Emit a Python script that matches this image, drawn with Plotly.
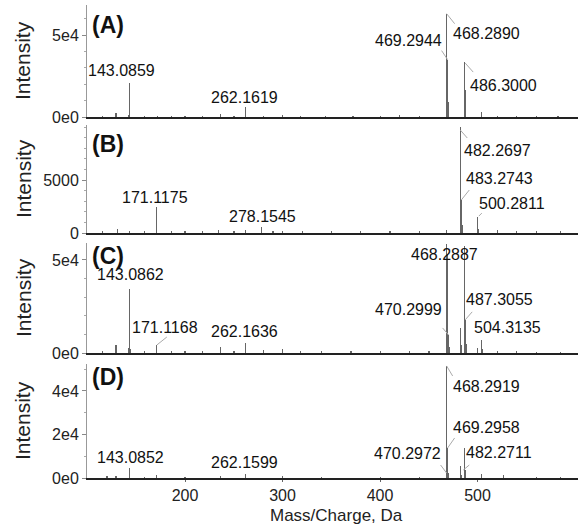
import plotly.graph_objects as go

# ---- data (m/z, intensity) ----
# labelled peaks
a_lab_mz = [143.0859, 262.1619, 468.2890, 469.2944, 486.3000]
a_lab_int = [20700, 6100, 63000, 35000, 33500]
b_lab_mz = [171.1175, 278.1545, 482.2697, 483.2743, 500.2811]
b_lab_int = [2450, 570, 10000, 3110, 1500]
c_lab_mz = [143.0862, 171.1168, 262.1636, 468.2887, 470.2999, 487.3055, 504.3135]
c_lab_int = [34400, 4300, 5400, 58500, 9700, 17800, 7000]
d_lab_mz = [143.0852, 262.1599, 468.2919, 469.2958, 470.2972, 482.2711]
d_lab_int = [4600, 1800, 51500, 13800, 2300, 5500]

# unlabelled peaks / baseline noise
a_mz = [115.1, 129.1, 142.1, 158.1, 172.1, 186.1, 200.1, 218.1, 236.2, 250.2, 280.2,
        300.2, 318.2, 344.2, 372.2, 400.2, 420.2, 440.3, 470.3, 487.3, 504.3, 520.3,
        540.3, 560.3, 582.4]
a_int = [900, 2400, 1500, 800, 700, 600, 700, 900, 1800, 700, 800,
         1300, 900, 600, 700, 600, 1200, 700, 9000, 16500, 2800, 900,
         600, 700, 600]
b_mz = [115.1, 131.1, 143.1, 158.1, 186.1, 200.1, 218.1, 234.2, 250.2, 262.2, 290.2,
        300.2, 320.2, 350.2, 380.2, 410.3, 440.3, 468.3, 484.3, 501.3, 520.3, 540.3,
        560.3, 585.4]
b_int = [150, 380, 200, 150, 180, 150, 200, 280, 170, 260, 200,
         180, 150, 170, 150, 160, 180, 300, 800, 400, 300, 180,
         160, 150]
c_mz = [115.1, 129.1, 142.1, 144.1, 158.1, 186.1, 200.1, 218.1, 236.2, 250.2, 280.2,
        300.2, 318.2, 340.2, 370.2, 400.3, 430.3, 450.3, 469.29, 471.3, 482.27, 483.27,
        486.30, 488.3, 500.3, 505.3, 520.3, 540.3, 560.3, 585.4]
c_int = [1100, 4300, 2500, 2000, 1200, 1000, 1100, 1200, 3200, 1300, 1500,
         2100, 1100, 1000, 1100, 1000, 1200, 1300, 53000, 3000, 13500, 4500,
         57500, 5000, 2700, 2000, 1100, 900, 800, 800]
d_mz = [120.1, 129.1, 158.1, 171.1, 200.1, 236.2, 300.2, 340.2, 400.3, 440.3, 483.3,
        486.30, 487.3, 504.3, 526.3, 560.3, 585.4]
d_int = [900, 900, 500, 1400, 600, 900, 700, 500, 500, 600, 1500,
         14000, 3500, 1800, 1400, 500, 500]

panel_names = ["(A)", "(B)", "(C)", "(D)"]
y_ranges = [68300, 10190, 59100, 52400]
y_tickvals = [[0, 50000], [0, 5000], [0, 50000], [0, 20000, 40000]]
y_ticktext = [["0e0", "5e4"], ["0", "5000"], ["0e0", "5e4"], ["0e0", "2e4", "4e4"]]
y_minor = [10000, 1000, 10000, 10000]
x_tickvals = [200, 300, 400, 500]

# layout helpers (pixel offsets of label centre from the peak top, and leader segments)
LABEL_POS = {
    "143.0859": (-8, -13, None), "262.1619": (-1, -10, None),
    "468.2890": (40, 20, (0, 0, 8, 10)), "469.2944": (-39, -19, (0, 0, -6, -9)),
    "486.3000": (39, 23, (1, 1, 9, 10)),
    "171.1175": (-2, -10, None), "278.1545": (1, -10, None),
    "482.2697": (37, 23, (0, 3, 7, 11)), "483.2743": (38, -22, (0, 0, 8, -10)),
    "500.2811": (34, -14, (1, -1, 4, -4)),
    "143.0862": (1, -14, None), "171.1168": (8, -18, (0, 0, 10, -8)),
    "262.1636": (-1, -11, None), "468.2887": (-2, 10, None),
    "470.2999": (-40, -25, (-6, -7, 0, 0)), "487.3055": (34, -20, (0, 0, 7, -8)),
    "504.3135": (26, -12, None),
    "143.0852": (1, -10, None), "262.1599": (-1, -12, None),
    "468.2919": (40, 21, (0, 0, 6, 10)), "469.2958": (39, -20, (0, 0, 7, -10)),
    "470.2972": (-41, -20, (-8, -8, -2, 0)), "482.2711": (39, -14, (3, 4, 9, -1)),
}

H_PLOT = 478  # pixel height of plotting area
domains = [(117, 5), (233, 125), (353, 243), (478, 364)]  # (bottom px, top px)
panel_lbl_y = [0.82, 0.82, 0.88, 0.89]

LABEL_FONT = dict(family="Liberation Sans, Arial", size=16, color="#111")
TICK_FONT = dict(family="Liberation Sans, Arial", size=16, color="#222")
STICK = "rgba(0,0,0,0.6)"

panels = [
    (a_lab_mz, a_lab_int, a_mz, a_int),
    (b_lab_mz, b_lab_int, b_mz, b_int),
    (c_lab_mz, c_lab_int, c_mz, c_int),
    (d_lab_mz, d_lab_int, d_mz, d_int),
]

fig = go.Figure()
annotations = []
shapes = []
layout_axes = {}

for i, (lab_mz, lab_int, mz, inten) in enumerate(panels):
    n = "" if i == 0 else str(i + 1)
    xa, ya = "x" + n, "y" + n
    all_mz = list(mz) + list(lab_mz)
    all_int = list(inten) + list(lab_int)
    fig.add_trace(go.Bar(
        x=all_mz, y=all_int, width=1.3, xaxis=xa, yaxis=ya,
        marker=dict(color=STICK, line=dict(width=0)),
        showlegend=False, hoverinfo="x+y"
    ))

    bot, top = domains[i]
    is_bottom = i == 3
    layout_axes["xaxis" + n] = dict(
        domain=[0, 1], anchor=ya, range=[99.5, 603],
        showline=True, linecolor="#222", linewidth=1.5,
        showgrid=False, zeroline=False,
        tickvals=x_tickvals if is_bottom else [],
        showticklabels=is_bottom, ticks="outside" if is_bottom else "",
        ticklen=2, tickcolor="#666", tickfont=TICK_FONT,
        **({} if i == 0 else dict(matches="x"))
    )
    layout_axes["yaxis" + n] = dict(
        domain=[(H_PLOT - bot) / H_PLOT, (H_PLOT - top) / H_PLOT],
        anchor=xa, range=[0, y_ranges[i]],
        showline=True, linecolor="#999", linewidth=1,
        showgrid=False, zeroline=False,
        tickmode="array", tickvals=y_tickvals[i], ticktext=y_ticktext[i],
        ticks="outside", ticklen=4, tickcolor="#888", tickfont=TICK_FONT,
        minor=dict(dtick=y_minor[i], tick0=0, ticks="outside", ticklen=2, tickcolor="#aaa"),
    )

    # peak labels and leader lines
    for m, h in zip(lab_mz, lab_int):
        txt = f"{m:.4f}"
        dx, dy, leader = LABEL_POS[txt]
        annotations.append(dict(
            x=m, y=h, xref=xa, yref=ya, text=txt, showarrow=False,
            xanchor="center", yanchor="middle", xshift=dx, yshift=-dy,
            font=LABEL_FONT
        ))
        if leader:
            x0, y0, x1, y1 = leader
            shapes.append(dict(
                type="line", xref=xa, yref=ya,
                xsizemode="pixel", ysizemode="pixel", xanchor=m, yanchor=h,
                x0=x0, x1=x1, y0=-y0, y1=-y1,
                line=dict(color="#aaa", width=1)
            ))

    # panel tag
    annotations.append(dict(
        x=0.006, y=panel_lbl_y[i], xref=xa + " domain", yref=ya + " domain",
        text="<b>" + panel_names[i] + "</b>", showarrow=False,
        xanchor="left", yanchor="middle",
        font=dict(family="Liberation Sans, Arial", size=23, color="#111")
    ))
    # y title
    annotations.append(dict(
        x=-0.1303, y=(H_PLOT - (bot + top) / 2) / H_PLOT, xref="paper", yref="paper",
        text="Intensity", textangle=-90, showarrow=False,
        xanchor="center", yanchor="middle",
        font=dict(family="Liberation Sans, Arial", size=21, color="#222")
    ))

annotations.append(dict(
    x=0.509, y=-0.079, xref="paper", yref="paper", text="Mass/Charge, Da",
    showarrow=False, xanchor="center", yanchor="middle",
    font=dict(family="Liberation Sans, Arial", size=17, color="#222")
))

fig.update_layout(
    width=578, height=524,
    margin=dict(l=87, r=0, t=0, b=46),
    paper_bgcolor="white", plot_bgcolor="white",
    barmode="overlay", bargap=0,
    annotations=annotations, shapes=shapes,
    **layout_axes
)

# drop the browser's default 8px body margin so the figure sits at the page corner
fig.write_html("out.html", config={"displayModeBar": False},
               post_script="document.body.style.margin='0';")
